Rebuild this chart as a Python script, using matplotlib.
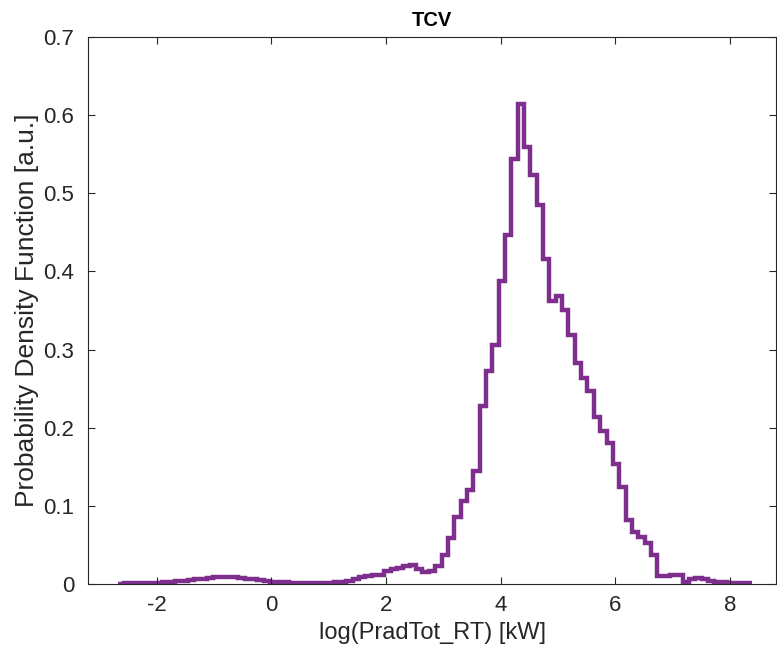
import numpy as np
import matplotlib
matplotlib.use("Agg")
import matplotlib.pyplot as plt

# histogram edges: 100 bins
x_start = -2.68
x_end = 8.39
n_bins = 100

# PDF values (bin 0 .. 99)
pdf = [
    0.0005, 0.0007, 0.0008, 0.0010, 0.0010, 0.0012, 0.0015, 0.0020, 0.0028, 0.0035,
    0.0040, 0.0050, 0.0058, 0.0068, 0.0078, 0.0088, 0.0093, 0.0092, 0.0085, 0.0078,
    0.0070, 0.0060, 0.0050, 0.0040, 0.0030, 0.0025, 0.0020, 0.0018, 0.0016, 0.0017,
    0.0018, 0.0017, 0.0017, 0.0018, 0.0020, 0.0022, 0.0040, 0.0060, 0.0095, 0.0105,
    0.0110, 0.0120, 0.0160, 0.0190, 0.0210, 0.0230, 0.0240, 0.0190, 0.0150, 0.0160,
    0.0230, 0.0370, 0.0590, 0.0860, 0.1060, 0.1200, 0.1440, 0.2280, 0.2730, 0.3060,
    0.3880, 0.4470, 0.5440, 0.6140, 0.5590, 0.5230, 0.4850, 0.4160, 0.3620, 0.3680,
    0.3510, 0.3190, 0.2830, 0.2640, 0.2470, 0.2140, 0.1960, 0.1810, 0.1530, 0.1240,
    0.0820, 0.0660, 0.0600, 0.0530, 0.0370, 0.0100, 0.0100, 0.0120, 0.0120, 0.0030,
    0.0060, 0.0080, 0.0070, 0.0040, 0.0030, 0.0020, 0.0015, 0.0010, 0.0010, 0.0010,
]

edges = np.linspace(x_start, x_end, n_bins + 1)

plt.rcParams["font.family"] = ["Liberation Sans", "DejaVu Sans"]
plt.rcParams["axes.unicode_minus"] = False

fig = plt.figure(figsize=(7.77, 6.57), dpi=100)
ax = fig.add_axes([88 / 777, 1 - 584 / 657, 688 / 777, 547 / 657])

ax.stairs(pdf, edges, baseline=None, color="#7E2F8E", linewidth=3.2)

ax.set_xlim(-3.2, 8.8)
ax.set_ylim(0, 0.7)
ax.set_xticks([-2, 0, 2, 4, 6, 8])
ax.set_yticks([0, 0.1, 0.2, 0.3, 0.4, 0.5, 0.6, 0.7])
ax.set_yticklabels(["0", "0.1", "0.2", "0.3", "0.4", "0.5", "0.6", "0.7"])

ax.tick_params(direction="in", top=True, right=True, length=5, width=0.8,
               labelsize=16, colors="#262626")
ax.tick_params(axis="y", pad=10)
ax.tick_params(axis="x", pad=8)
for sp in ax.spines.values():
    sp.set_color("#262626")
    sp.set_linewidth(0.8)

ax.set_title("TCV", fontsize=14.5, fontweight="bold", color="black", pad=8)
ax.set_xlabel("log(PradTot_RT) [kW]", fontsize=17, color="#262626", labelpad=4)
ax.set_ylabel("Probability Density Function [a.u.]", fontsize=19, color="#262626", labelpad=3)

fig.savefig("out.png", dpi=100)
